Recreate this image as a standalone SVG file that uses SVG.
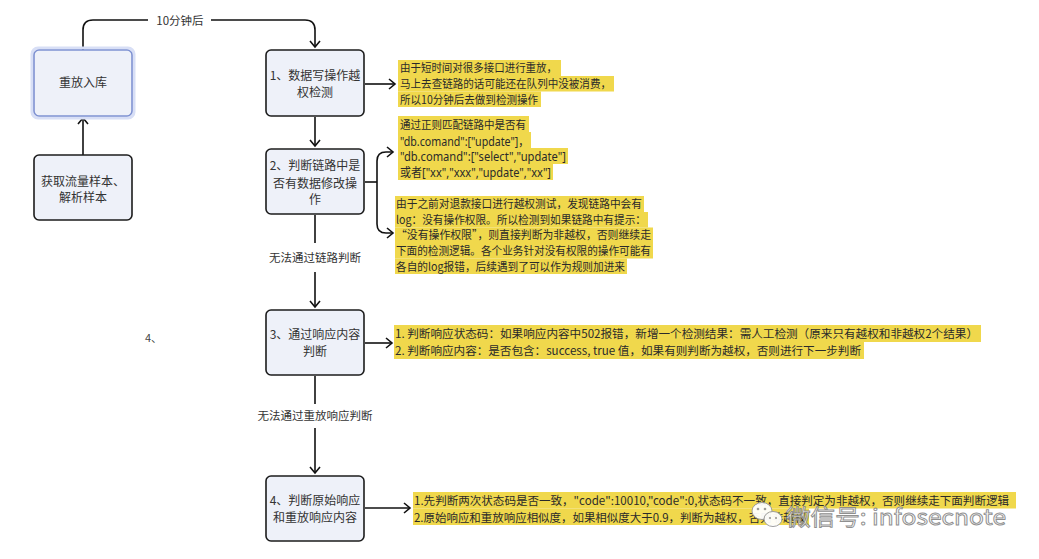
<svg xmlns="http://www.w3.org/2000/svg" width="1039" height="559" viewBox="0 0 1039 559">
<defs>
<marker id="arr" markerWidth="12" markerHeight="12" refX="9" refY="6" orient="auto" markerUnits="userSpaceOnUse">
<path d="M3,1 L9,6 L3,11" fill="none" stroke="#111" stroke-width="1.6"/>
</marker>
<style>
.node{fill:#eef1f9;stroke:#1c1c1c;stroke-width:1.6}
.nt{font-family:"Noto Sans CJK SC","Noto Sans",sans-serif;font-size:12px;fill:#333;text-anchor:middle}
.lbl{font-family:"Noto Sans CJK SC","Noto Sans",sans-serif;font-size:11.5px;fill:#333;text-anchor:middle}
.conn{fill:none;stroke:#111;stroke-width:1.6}
.hl{fill:#f0d84c}
.at{font-family:"Noto Sans CJK SC","Noto Sans",sans-serif;font-size:11.5px;fill:#2a2a2a}
.atl{font-family:"Noto Sans","Noto Sans CJK SC",sans-serif;font-size:12.5px;fill:#2a2a2a}
</style>
</defs>
<rect width="1039" height="559" fill="#ffffff"/>

<g id="connectors">
<path class="conn" d="M83,50 V30 Q83,20 93,20 H305 Q315,20 315,30 V47" marker-end="url(#arr)"/>
<rect x="148" y="12" width="63" height="18" fill="#ffffff"/>
<text class="lbl" x="180" y="25">10分钟后</text>
<path class="conn" d="M83,155 V118" marker-end="url(#arr)"/>
<path class="conn" d="M315,117 V146" marker-end="url(#arr)"/>
<path class="conn" d="M315,215 V243"/>
<text class="lbl" x="315" y="262">无法通过链路判断</text>
<path class="conn" d="M315,272 V307" marker-end="url(#arr)"/>
<path class="conn" d="M315,376 V404"/>
<text class="lbl" x="315" y="420">无法通过重放响应判断</text>
<path class="conn" d="M315,428 V473" marker-end="url(#arr)"/>
<path class="conn" d="M365,84 H395" marker-end="url(#arr)"/>
<path class="conn" d="M365,182 H377"/>
<path class="conn" d="M377,182 V161 Q377,152 386,152 H393" marker-end="url(#arr)"/>
<path class="conn" d="M377,182 V224 Q377,233 386,233 H393" marker-end="url(#arr)"/>
<path class="conn" d="M365,343 H392" marker-end="url(#arr)"/>
<path class="conn" d="M365,508 H410" marker-end="url(#arr)"/>
</g>

<g id="node-replay">
<rect x="32" y="48" width="102" height="70" rx="6" fill="none" stroke="#d8dff6" stroke-width="3"/>
<rect x="34" y="50" width="98" height="66" rx="5" fill="#eef1f9" stroke="#7f92d2" stroke-width="1.6"/>
<text class="nt" x="83" y="87">重放入库</text>
</g>
<g id="node-sample">
<rect class="node" x="34" y="155" width="98" height="65" rx="5"/>
<text class="nt" x="83" y="186">获取流量样本、</text>
<text class="nt" x="83" y="202">解析样本</text>
</g>
<g id="node-1">
<rect class="node" x="266" y="50" width="98" height="66" rx="5"/>
<text class="nt" x="315" y="80">1、数据写操作越</text>
<text class="nt" x="315" y="97">权检测</text>
</g>
<g id="node-2">
<rect class="node" x="266" y="149" width="98" height="65" rx="5"/>
<text class="nt" x="315" y="170">2、判断链路中是</text>
<text class="nt" x="315" y="188">否有数据修改操</text>
<text class="nt" x="315" y="204">作</text>
</g>
<g id="node-3">
<rect class="node" x="266" y="310" width="98" height="65" rx="5"/>
<text class="nt" x="315" y="339">3、通过响应内容</text>
<text class="nt" x="315" y="356">判断</text>
</g>
<g id="node-4">
<rect class="node" x="266" y="476" width="98" height="65" rx="5"/>
<text class="nt" x="315" y="505">4、判断原始响应</text>
<text class="nt" x="315" y="522">和重放响应内容</text>
</g>

<g id="note-1">
<rect class="hl" x="398" y="60" width="163" height="16"/>
<rect class="hl" x="398" y="76" width="216" height="15.5"/>
<rect class="hl" x="398" y="91.5" width="143" height="15.5"/>
<text class="at" x="400" y="72" textLength="157" lengthAdjust="spacingAndGlyphs">由于短时间对很多接口进行重放，</text>
<text class="at" x="400" y="88" textLength="211" lengthAdjust="spacingAndGlyphs">马上去查链路的话可能还在队列中没被消费，</text>
<text class="at" x="400" y="103.5" textLength="138" lengthAdjust="spacingAndGlyphs">所以10分钟后去做到检测操作</text>
</g>
<g id="note-2">
<rect class="hl" x="398" y="116" width="131" height="16"/>
<rect class="hl" x="398" y="132" width="133" height="16"/>
<rect class="hl" x="398" y="148" width="170" height="16"/>
<rect class="hl" x="398" y="164" width="155" height="16"/>
<text class="at" x="400" y="129" textLength="126" lengthAdjust="spacingAndGlyphs">通过正则匹配链路中是否有</text>
<text class="atl" x="400" y="145.5" textLength="129" lengthAdjust="spacingAndGlyphs">"db.comand":["update"]，</text>
<text class="atl" x="400" y="161" textLength="166" lengthAdjust="spacingAndGlyphs">"db.comand":["select","update"]</text>
<text class="atl" x="400" y="177" textLength="151" lengthAdjust="spacingAndGlyphs">或者["xx","xxx","update","xx"]</text>
</g>
<g id="note-3">
<rect class="hl" x="395" y="196" width="249" height="16"/>
<rect class="hl" x="395" y="212" width="253" height="15.5"/>
<rect class="hl" x="395" y="227.5" width="258" height="15.5"/>
<rect class="hl" x="395" y="243" width="258" height="15.5"/>
<rect class="hl" x="395" y="258.5" width="232" height="15.5"/>
<text class="at" x="396" y="208" textLength="246" lengthAdjust="spacingAndGlyphs">由于之前对退款接口进行越权测试，发现链路中会有</text>
<text class="at" x="396" y="224" textLength="250" lengthAdjust="spacingAndGlyphs">log：没有操作权限。所以检测到如果链路中有提示：</text>
<text class="at" x="396" y="239" textLength="255" lengthAdjust="spacingAndGlyphs">“没有操作权限”，则直接判断为非越权，否则继续走</text>
<text class="at" x="396" y="255" textLength="255" lengthAdjust="spacingAndGlyphs">下面的检测逻辑。各个业务针对没有权限的操作可能有</text>
<text class="at" x="396" y="270.5" textLength="229" lengthAdjust="spacingAndGlyphs">各自的log报错，后续遇到了可以作为规则加进来</text>
</g>
<g id="note-4">
<rect class="hl" x="394" y="325" width="587" height="17"/>
<rect class="hl" x="394" y="342" width="470" height="17"/>
<text class="at" x="395" y="338" textLength="583" lengthAdjust="spacingAndGlyphs">1. 判断响应状态码：如果响应内容中502报错，新增一个检测结果：需人工检测（原来只有越权和非越权2个结果）</text>
<text class="at" x="395" y="355" textLength="466" lengthAdjust="spacingAndGlyphs">2. 判断响应内容：是否包含：success, true 值，如果有则判断为越权，否则进行下一步判断</text>
</g>
<g id="note-5">
<rect class="hl" x="413" y="492" width="603" height="16.5"/>
<rect class="hl" x="413" y="508.5" width="396" height="16.5"/>
<text class="at" x="414" y="505" textLength="595" lengthAdjust="spacingAndGlyphs">1.先判断两次状态码是否一致，"code":10010,"code":0,状态码不一致，直接判定为非越权，否则继续走下面判断逻辑</text>
<text class="at" x="414" y="521.5" textLength="392" lengthAdjust="spacingAndGlyphs">2.原始响应和重放响应相似度，如果相似度大于0.9，判断为越权，否则非越权</text>
</g>

<text x="145" y="342" font-family="Noto Sans CJK SC, sans-serif" font-size="11" fill="#444">4、</text>

<g id="watermark" opacity="0.95">
<ellipse cx="762" cy="511" rx="10" ry="8.5" fill="#ffffff" stroke="#9a9a9a" stroke-width="1"/>
<ellipse cx="773" cy="519" rx="9" ry="7.5" fill="#ffffff" stroke="#9a9a9a" stroke-width="1"/>
<circle cx="758" cy="509" r="1.3" fill="#9a9a9a"/>
<circle cx="765" cy="509" r="1.3" fill="#9a9a9a"/>
<circle cx="770" cy="518" r="1.1" fill="#9a9a9a"/>
<circle cx="776" cy="518" r="1.1" fill="#9a9a9a"/>
<text x="786" y="525" font-family="Noto Sans CJK SC, sans-serif" font-size="22" fill="#ffffff" stroke="#8a8a8a" stroke-width="0.9" textLength="220" lengthAdjust="spacingAndGlyphs">微信号: infosecnote</text>
</g>
</svg>
